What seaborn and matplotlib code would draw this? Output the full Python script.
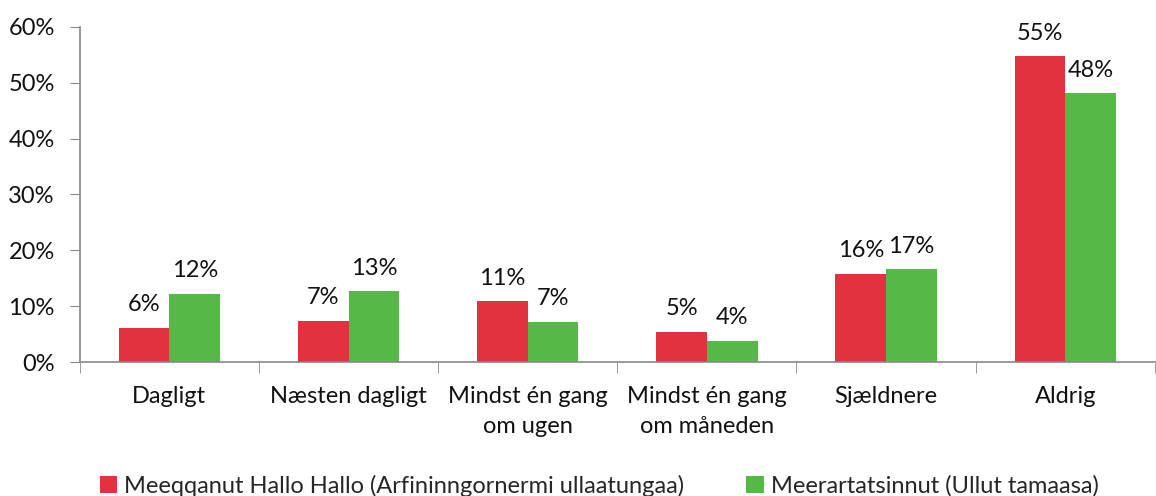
import numpy as np
import pandas as pd
import matplotlib
matplotlib.use("Agg")
import matplotlib.pyplot as plt
import seaborn as sns
from matplotlib.ticker import FixedLocator, PercentFormatter

categories = ["Dagligt", "Næsten dagligt", "Mindst én gang\nom ugen",
              "Mindst én gang\nom måneden", "Sjældnere", "Aldrig"]
series_names = ["Meeqqanut Hallo Hallo (Arfininngornermi ullaatungaa)",
                "Meerartatsinnut (Ullut tamaasa)"]
red_values = [6.1, 7.4, 10.9, 5.4, 15.8, 54.7]
green_values = [12.2, 12.7, 7.2, 3.8, 16.6, 48.1]
colors = ["#E3323F", "#56B947"]

df = pd.DataFrame({
    "category": categories * 2,
    "series": [series_names[0]] * 6 + [series_names[1]] * 6,
    "value": red_values + green_values,
})

sns.set_style("white")
plt.rcParams["font.family"] = ["Lato", "DejaVu Sans"]
fs = 17

fig = plt.figure(figsize=(11.56, 4.96), dpi=100)
ax = fig.add_axes([0.069, 0.27, 0.93, 0.676])

sns.barplot(data=df, x="category", y="value", hue="series", palette=colors,
            width=0.565, saturation=1, linewidth=0, ax=ax, legend=True)

for container in ax.containers:
    ax.bar_label(container, labels=[f"{v:.0f}%" for v in container.datavalues],
                 padding=9, fontsize=fs, color="#111111")

ax.set_ylim(0, 60)
ax.set_xlim(-0.5, 5.5)
ax.set_yticks(range(0, 61, 10))
ax.yaxis.set_major_formatter(PercentFormatter(decimals=0))
ax.set_xlabel("")
ax.set_ylabel("")
ax.tick_params(axis="y", labelsize=fs, length=7, color="#888888", direction="out",
               left=True, pad=11, labelcolor="#111111")
ax.tick_params(axis="x", which="major", length=0, labelsize=fs, pad=17,
               labelcolor="#111111")
for lbl in ax.get_xticklabels():
    lbl.set_linespacing(1.55)
ax.xaxis.set_minor_locator(FixedLocator(np.arange(-0.5, 6.0, 1.0)))
ax.tick_params(axis="x", which="minor", length=8, color="#888888", direction="out",
               bottom=True)

for side in ["top", "right"]:
    ax.spines[side].set_visible(False)
for side in ["left", "bottom"]:
    ax.spines[side].set_color("#888888")
    ax.spines[side].set_linewidth(1.2)

handles, labels = ax.get_legend_handles_labels()
ax.legend(handles, labels, loc="lower center", bbox_to_anchor=(0.483, -0.43),
          ncol=2, frameon=False, fontsize=fs, handlelength=0.75, handleheight=0.75,
          handletextpad=0.3, columnspacing=2.6, borderaxespad=0)

fig.savefig("out.png", dpi=100)
